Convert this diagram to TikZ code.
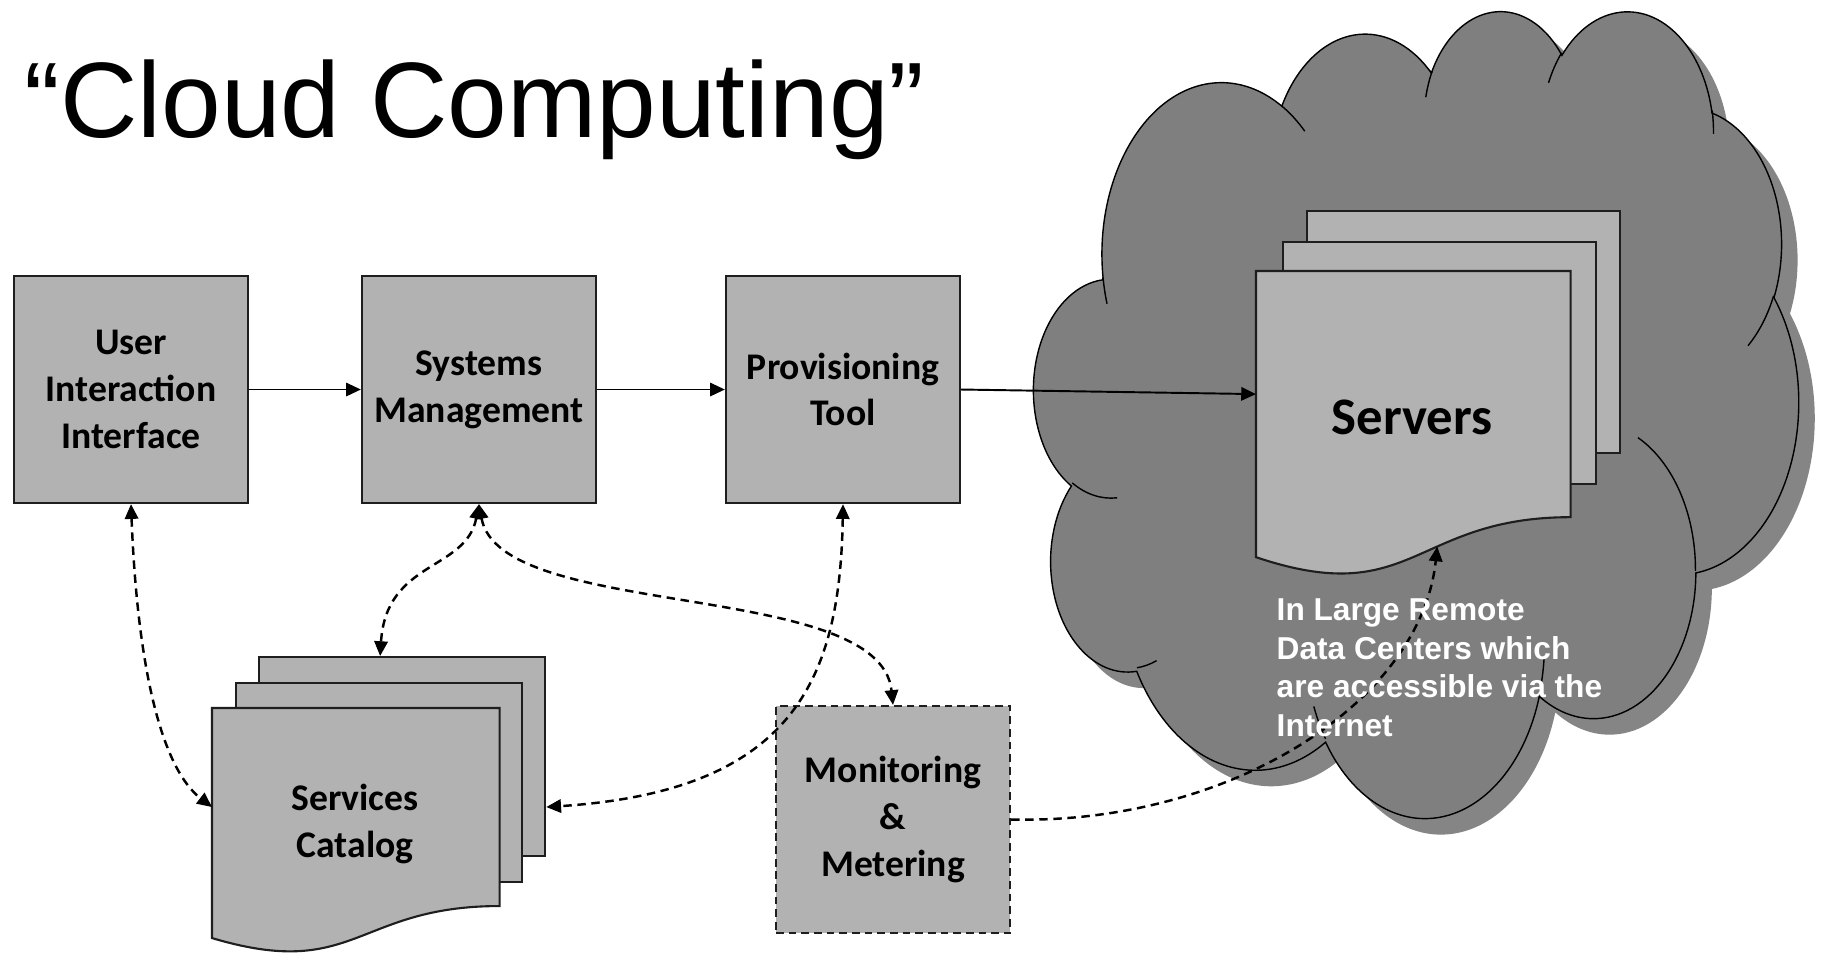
\documentclass[tikz,border=0pt]{standalone}
\usepackage{fontspec}
\setmainfont{Liberation Sans}
\newfontfamily\calib{Carlito}
\usetikzlibrary{arrows.meta,calc}
\definecolor{boxgray}{HTML}{B2B2B2}
\definecolor{cloudgray}{HTML}{7F7F7F}
\definecolor{shadowgray}{HTML}{858585}
\definecolor{edge}{HTML}{1E1E1E}
\newcommand\carc[4]{arc[x radius=#1, y radius=#2, start angle={atan2((#1)*sin(#3),(#2)*cos(#3))}, delta angle={Mod(atan2((#1)*sin((#3)+(#4)),(#2)*cos((#3)+(#4)))-atan2((#1)*sin(#3),(#2)*cos(#3)),360)}]}
\def\cloudpath{(39.00,143.70) \carc{67.53}{91.90}{-190.4875}{123.7805} \carc{53.33}{72.67}{-144.1024}{89.9452} \carc{43.65}{59.45}{-145.8079}{99.7230} \carc{48.57}{65.95}{-130.9861}{117.2417} \carc{53.33}{72.73}{-78.7089}{109.0269} \carc{67.75}{92.20}{-46.2673}{130.2690} \carc{57.85}{78.67}{0.6250}{114.0333} \carc{67.52}{92.15}{22.4516}{115.1726} \carc{77.20}{105.43}{66.2426}{75.7110} \carc{43.60}{59.18}{-274.9421}{146.7356} \carc{43.45}{59.45}{-246.8285}{152.5189} -- cycle}
\def\cloudinner{(46.93,261.77) \carc{43.45}{59.45}{86.7420}{26.4295} (69.28,348.99) \carc{43.60}{59.18}{73.6105}{11.4475} (164.78,390.90) \carc{67.52}{92.15}{137.6242}{14.0811} (288.27,347.51) \carc{67.52}{92.15}{6.4533}{15.9984} (341.29,229.54) \carc{57.85}{78.67}{-70.2924}{70.9174} (417.98,153.54) \carc{53.33}{72.73}{30.3180}{27.7515} (383.24,54.26) \carc{48.57}{65.95}{-13.7443}{14.8589} (290.78,39.52) \carc{48.57}{65.95}{-149.1815}{18.1954} (221.41,47.20) \carc{43.65}{59.45}{-163.4943}{17.6864} (140.00,51.92) \carc{67.53}{91.90}{-66.7070}{12.3194} (41.27,157.89) \carc{67.53}{91.90}{157.6544}{11.8582}}
\tikzset{
 lblfont/.style={font=\calib\bfseries\fontsize{10.7}{13.3}\selectfont},
 box/.style={draw=edge, line width=0.6pt, fill=boxgray, minimum width=2.34cm, minimum height=2.27cm, align=center, lblfont, inner sep=0pt},
 page/.style={draw=edge, line width=0.6pt, fill=boxgray},
 pagenode/.style={page, inner sep=0pt, anchor=north west},
 ghost/.style={draw=none, fill=none, inner sep=0pt, anchor=north west},
 lbl/.style={align=center, lblfont, inner sep=0pt},
 flow/.style={line width=0.55pt, -{Triangle[length=4.2pt,width=3.8pt]}},
 dflow/.style={line width=0.7pt, dash pattern=on 2.4pt off 1.6pt, {Triangle[length=4.2pt,width=3.8pt]}-{Triangle[length=4.2pt,width=3.8pt]}},
 sflow/.style={line width=0.7pt, dash pattern=on 2.4pt off 1.6pt, -{Triangle[length=4.2pt,width=3.8pt]}},
}
\begin{document}
\begin{tikzpicture}[x=0.01cm, y=-0.01cm]
\useasboundingbox[fill=white] (0,0) rectangle (1825,953);
% title
\node[anchor=base west, font=\fontsize{30.5}{36}\selectfont, inner sep=0pt] (title) at (24,137) {“Cloud Computing”};
% cloud
\begin{scope}[shift={(1050,25)}, x=0.0176852cm, y=-0.0186574cm]
\fill[shadowgray] \cloudpath;
\end{scope}
\begin{scope}[shift={(1034,9)}, x=0.0176852cm, y=-0.0186574cm]
\filldraw[fill=cloudgray, draw=black, line width=0.4pt] \cloudpath;
\draw[black, line width=0.4pt] \cloudinner;
\end{scope}
% servers stack
\node[pagenode, minimum width=3.13cm, minimum height=2.42cm] (srvback) at (1306,210) {};
\node[pagenode, minimum width=3.13cm, minimum height=2.42cm] (srvmid) at (1282,241) {};
\node[ghost, minimum width=3.13cm, minimum height=2.446cm] (srvpage) at (1256,271) {};
\draw[page] (srvpage.north west) -- (srvpage.north east) -- (srvpage.south east)
  .. controls (srvpage.south) and ($(srvpage.south)+(0,93)$) .. coordinate[pos=0.4] (srvdip) ($(srvpage.south west)+(0,40)$) -- cycle;
\node[lbl, font=\calib\bfseries\fontsize{15}{18}\selectfont] (srvtxt) at (1412,417) {Servers};
% top boxes
\node[box] (uii) at (131,389.5) {User\\Interaction\\Interface};
\node[box] (sm) at (479,389.5) {Systems\\Management};
\node[box] (pt) at (843,389.5) {Provisioning\\Tool};
\node[box, dash pattern=on 2.2pt off 1.4pt] (mon) at (893,819.5) {Monitoring\\\&\\Metering};
% services catalog stack
\node[pagenode, minimum width=2.86cm, minimum height=1.99cm] (scback) at (258,656) {};
\node[pagenode, minimum width=2.86cm, minimum height=1.99cm] (scmid) at (235,682) {};
\node[ghost, minimum width=2.86cm, minimum height=1.965cm] (scpage) at (212,708) {};
\draw[page] (scpage.north west) -- (scpage.north east) -- (scpage.south east)
  .. controls (scpage.south) and ($(scpage.south)+(0,75)$) .. ($(scpage.south west)+(0,32)$) -- cycle;
\node[lbl] (sctxt) at (355,824) {Services\\Catalog};
% connectors
\draw[flow] (uii.east) -- (sm.west);
\draw[flow] (sm.east) -- (pt.west);
\draw[flow] (pt.east) -- (srvpage.west);
\draw[dflow] (uii.south) .. controls +(7,177) and +(-47,-36) .. (scpage.west);
\draw[dflow] (sm.south) .. controls +(-13,67) and +(6,-96) .. ([xshift=-0.22cm]scback.north);
\draw[dflow] (sm.south) .. controls +(21,117) and +(-13,-126) .. (mon.north);
\draw[dflow] (pt.south) .. controls +(-3,177) and +(246,-16) .. (scback.east |- scpage.west);
\draw[sflow] (mon.east) .. controls +(220,5) and +(-16,155) .. (srvdip);
% white caption
\node[anchor=north west, align=left, text=white, font=\bfseries\fontsize{9}{10.95}\selectfont, inner sep=0pt] (dc) at (1276,598) {In Large Remote\\Data Centers which\\are accessible via the\\Internet};
\end{tikzpicture}
\end{document}
